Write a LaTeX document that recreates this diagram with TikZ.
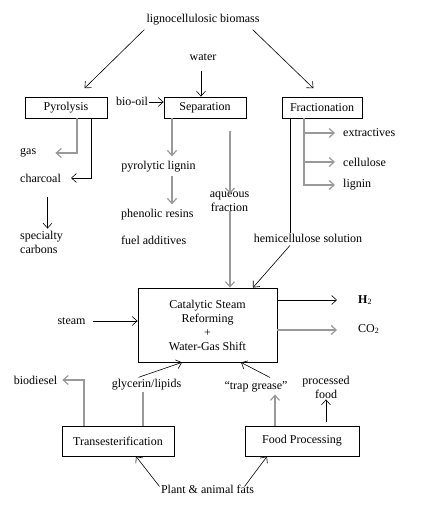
\documentclass[tikz,border=0pt]{standalone}
\usepackage{fontspec}
\setmainfont{Liberation Serif}
\usetikzlibrary{arrows.meta}
\begin{document}
\begin{tikzpicture}[x=1pt,y=-1pt,
  every node/.style={font=\fontsize{12}{14}\selectfont},
  box/.style={draw, line width=0.8pt, inner sep=0pt, align=center},
  lbl/.style={inner sep=1pt, align=center},
  arr/.style={-{Straight Barb[length=5pt,width=9pt]}, line width=0.6pt},
  garr/.style={arr, draw=black!40, line width=1.2pt},
  gline/.style={draw=black!40, line width=1.2pt},
  bline/.style={line width=0.7pt}]
\useasboundingbox[fill=white] (0,0) rectangle (426,518);

% boxes
\node[box, minimum width=82pt, minimum height=21pt] (pyro) at (66,107.5) {Pyrolysis};
\node[box, minimum width=82pt, minimum height=21pt] (sep) at (205,107.5) {Separation};
\node[box, minimum width=80pt, minimum height=21pt] (frac) at (322,107.5) {Fractionation};
\node[box, minimum width=139pt, minimum height=74pt] (cat) at (207.5,325) {Catalytic Steam\\Reforming\\+\\Water-Gas Shift};
\node[box, minimum width=112pt, minimum height=30pt] (trans) at (118,441) {Transesterification};
\node[box, minimum width=114pt, minimum height=30pt] (food) at (302,441) {Food Processing};

% labels
\node[lbl] (bio) at (203,20) {lignocellulosic biomass};
\node[lbl] (water) at (203,57) {water};
\node[lbl] (oil) at (132,101) {bio-oil};
\node[lbl, anchor=west] (gas) at (19,153) {gas};
\node[lbl, anchor=west] (char) at (19,178) {charcoal};
\node[lbl, anchor=west, align=left] (spec) at (19,242) {specialty\\carbons};
\node[lbl] (plig) at (158.5,167) {pyrolytic lignin};
\node[lbl, anchor=west] (phen) at (120,215) {phenolic resins};
\node[lbl, anchor=west] (fuel) at (120,240) {fuel additives};
\node[lbl] (aq) at (229.5,202) {aqueous\\fraction};
\node[lbl, anchor=west] (ext) at (342,133) {extractives};
\node[lbl, anchor=west] (cell) at (342,162) {cellulose};
\node[lbl, anchor=west] (lig) at (342,185) {lignin};
\node[lbl] (hemi) at (308,238) {hemicellulose solution};
\node[lbl, anchor=west] (h2) at (357,300) {\textbf{H}\textsubscript{2}};
\node[lbl, anchor=west] (co2) at (357,329) {CO\textsubscript{2}};
\node[lbl] (steam) at (71.5,321) {steam};
\node[lbl] (bd) at (35.5,380) {biodiesel};
\node[lbl] (gly) at (146.5,385) {glycerin/lipids};
\node[lbl] (trap) at (256,387) {``trap grease''};
\node[lbl] (proc) at (326,387) {processed\\food};
\node[lbl] (plant) at (207.5,489) {Plant \& animal fats};

% connectors
\draw[arr, shorten >=12pt] ([xshift=-1pt,yshift=-3pt]bio.south west) -- ([xshift=10pt]pyro.north);
\draw[arr, shorten >=12pt] ([xshift=-8pt,yshift=-3pt]bio.south east) -- (frac.north);
\draw[arr, shorten <=9pt] ([xshift=-2pt]water.south) -- ([xshift=-4pt]sep.north);
\draw[arr] ([yshift=-1pt]oil.east) -- ([yshift=-1pt]oil.east -| sep.west);

\draw[garr, shorten >=18pt] ([xshift=11pt]pyro.south) |- (gas.east);
\draw[arr, shorten >=9pt] ([xshift=25pt]pyro.south) |- (char.east);
\draw[arr, shorten <=14pt, shorten >=1pt] ([xshift=7pt]char.south) -- ([xshift=7pt]char.south |- spec.north);

\draw[garr, shorten >=4pt] ([xshift=-33pt]sep.south) -- ([xshift=-33pt]sep.south |- plig.north);
\draw[garr, shorten <=2pt, shorten >=4pt] ([xshift=13.5pt]plig.south) -- ([xshift=13.5pt]plig.south |- phen.north);

\coordinate (aq0) at (230,131);
\draw[garr, shorten >=-3pt] (aq0) -- (aq0 |- aq.north);
\draw[garr, shorten <=-2pt] (aq0 |- aq.south) -- (aq0 |- cat.north);

\draw[bline] ([xshift=-32pt]frac.south) -- ([xshift=-32pt]frac.south |- hemi.north);
\draw[arr] ([xshift=-18pt,yshift=-2pt]hemi.south) -- ([xshift=45.5pt]cat.north);

\coordinate (fx) at ([xshift=-18pt]frac.south);
\draw[garr, shorten >=7pt] (fx) |- (lig.west);
\draw[garr, shorten >=7pt] (fx |- ext.west) -- (ext.west);
\draw[garr, shorten >=7pt] (fx |- cell.west) -- (cell.west);

\draw[arr, shorten >=20pt] (cat.east |- h2.west) -- (h2.west);
\draw[garr, shorten >=20pt] ([yshift=-1pt]cat.east |- co2.west) -- ([yshift=-1pt]co2.west);
\draw[arr, shorten <=6pt] (steam.east) -- (steam.east -| cat.west);

\draw[garr, shorten >=4pt] ([xshift=-34pt]trans.north) |- (bd.east);
\draw[gline] ([xshift=25pt]trans.north) -- ([xshift=25pt]trans.north |- gly.south);
\draw[arr] ([xshift=-8pt,yshift=1pt]gly.north) -- ([xshift=-25.5pt]cat.south);

\draw[arr] ([xshift=-48pt,yshift=-3pt]plant.north) -- ([xshift=18pt]trans.south);
\draw[arr] ([xshift=37pt,yshift=-3pt]plant.north) -- ([xshift=-35pt]food.south);

\draw[garr, shorten >=1pt] ([xshift=-27pt]food.north) -- ([xshift=-27pt]food.north |- trap.south);
\draw[arr] ([xshift=14pt,yshift=3pt]trap.north) -- ([xshift=33.5pt]cat.south);
\draw[arr, shorten <=4pt] ([xshift=24pt]food.north) -- ([xshift=24pt]food.north |- proc.south);
\end{tikzpicture}
\end{document}
